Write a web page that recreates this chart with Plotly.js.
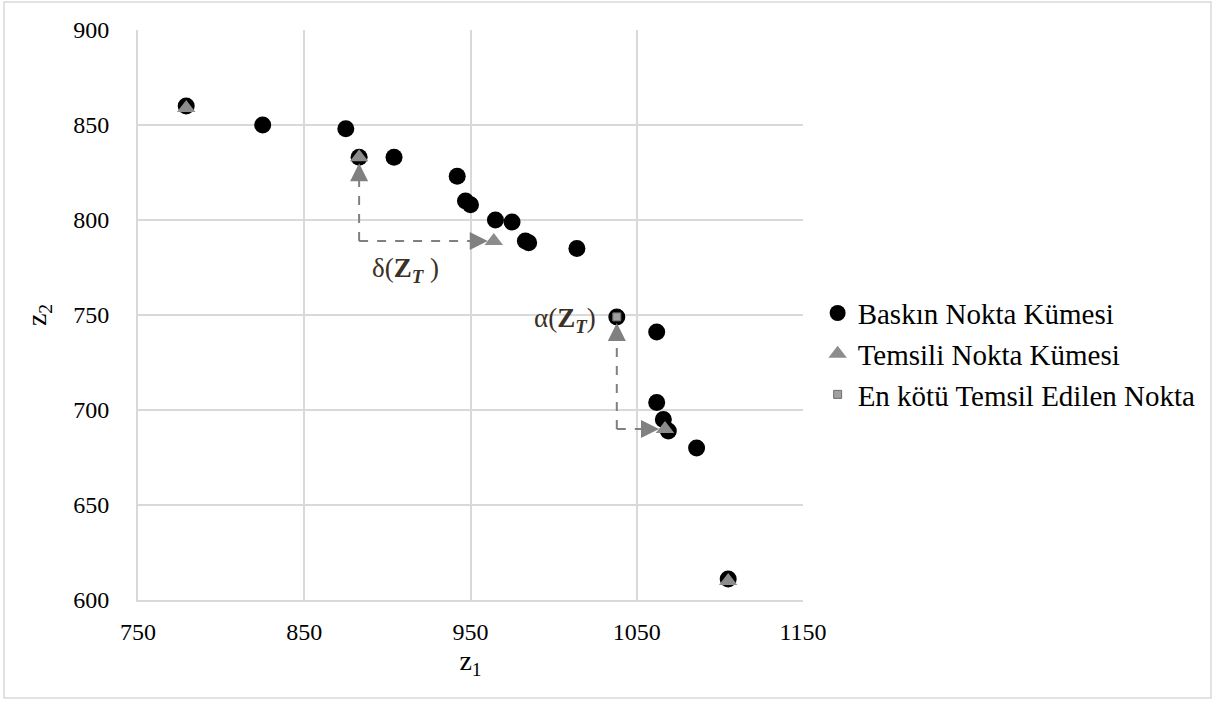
<!DOCTYPE html>
<html>
<head>
<meta charset="utf-8">
<script src="https://cdn.plot.ly/plotly-3.0.1.min.js"></script>
<style>html,body{margin:0;padding:0;background:#fff;}#chart{width:1218px;height:701px;}</style>
</head>
<body>
<div id="chart"></div>
<script>
// Dominated (Baskın) point set
var baskinX = [779, 825, 875, 883, 904, 942, 947, 950, 965, 975, 983, 985, 1014, 1038, 1062, 1062, 1066, 1069, 1086, 1105];
var baskinY = [860, 850, 848, 833, 833, 823, 810, 808, 800, 799, 789, 788, 785, 749, 741, 704, 695, 689, 680, 611];
// Representative (Temsili) point set
var temsiliX = [779, 883, 964, 1067, 1105];
var temsiliY = [859, 833, 789, 690, 610];
// Worst represented point
var worstX = [1038];
var worstY = [749];

var seriesNames = ['Baskın Nokta Kümesi', 'Temsili Nokta Kümesi', 'En kötü Temsil Edilen Nokta'];
var xTicks = [750, 850, 950, 1050, 1150];
var yTicks = [600, 650, 700, 750, 800, 850, 900];

var serif = "'Liberation Serif', 'Times New Roman', Times, serif";
var arrowGrey = '#808080';

var traces = [
  {x: baskinX, y: baskinY, type: 'scatter', mode: 'markers', name: seriesNames[0], legendgroup: 'a',
   marker: {symbol: 'circle', size: 17, color: '#000000'}},
  {x: temsiliX, y: temsiliY, type: 'scatter', mode: 'markers', name: seriesNames[1], legendgroup: 'b',
   marker: {symbol: 'triangle-up', size: 16, color: '#8c8c8c'}},
  {x: worstX, y: worstY, type: 'scatter', mode: 'markers', name: seriesNames[2], legendgroup: 'c',
   marker: {symbol: 'square', size: 8, color: '#a0a0a0', line: {color: '#6e6e6e', width: 1}}}
];

// delta construction: corner below representative point 2, at y of representative point 3
var dCornerX = temsiliX[1], dCornerY = temsiliY[2];
// alpha construction: corner under worst point, at y of representative point 4
var aCornerX = worstX[0], aCornerY = temsiliY[3];

var shapes = [
  {type: 'line', xref: 'x', yref: 'y', x0: dCornerX, y0: dCornerY, x1: dCornerX, y1: temsiliY[1] - 6,
   line: {color: arrowGrey, width: 2, dash: 'dash'}},
  {type: 'line', xref: 'x', yref: 'y', x0: dCornerX, y0: dCornerY, x1: temsiliX[2] - 12, y1: dCornerY,
   line: {color: arrowGrey, width: 2, dash: 'dash'}},
  {type: 'line', xref: 'x', yref: 'y', x0: aCornerX, y0: aCornerY, x1: aCornerX, y1: worstY[0] - 8,
   line: {color: arrowGrey, width: 2, dash: 'dash'}},
  {type: 'line', xref: 'x', yref: 'y', x0: aCornerX, y0: aCornerY, x1: temsiliX[3] - 12, y1: aCornerY,
   line: {color: arrowGrey, width: 2, dash: 'dash'}},
  {type: 'rect', xref: 'paper', yref: 'paper', x0: (4 - 138) / 665, x1: (1211 - 138) / 665,
   y0: (600 - 698) / 570, y1: (600 - 2) / 570, line: {color: '#d9d9d9', width: 1.5}, layer: 'below'}
];

function head(x, y, ax, ay) {
  return {x: x, y: y, xref: 'x', yref: 'y', ax: ax, ay: ay, showarrow: true, arrowhead: 2,
          arrowsize: 1.8, arrowwidth: 2, arrowcolor: arrowGrey, standoff: 6, text: ''};
}

var annotations = [
  head(temsiliX[1], temsiliY[1], 0, 18),
  head(temsiliX[2], temsiliY[2], -18, 0),
  head(worstX[0], worstY[0], 0, 18),
  head(temsiliX[3], temsiliY[3], -18, 0),
  {x: 911, y: 773.5, xref: 'x', yref: 'y', showarrow: false,
   text: 'δ(<b>Z</b><sub><b><i>T</i></b></sub> )', font: {family: serif, size: 27, color: '#3b3026'}},
  {x: 1007, y: 747.5, xref: 'x', yref: 'y', showarrow: false,
   text: 'α(<b>Z</b><sub><b><i>T</i></b></sub>)', font: {family: serif, size: 27, color: '#3b3026'}}
];

var layout = {
  width: 1218, height: 701,
  margin: {l: 138, r: 415, t: 30, b: 101},
  paper_bgcolor: '#ffffff', plot_bgcolor: '#ffffff',
  font: {family: serif, size: 24, color: '#000000'},
  showlegend: true,
  legend: {x: 1.022, xanchor: 'left', y: 0.548, yanchor: 'top', font: {family: serif, size: 29, color: '#000'},
           traceorder: 'grouped', tracegroupgap: 0, itemwidth: 30, bgcolor: 'rgba(0,0,0,0)'},
  xaxis: {range: [750, 1150], tickvals: xTicks, ticktext: xTicks.map(String), showgrid: true, gridcolor: '#d9d9d9', gridwidth: 2,
          zeroline: false, showline: true, linecolor: '#d9d9d9', linewidth: 2, ticks: '', ticklabelstandoff: 9,
          tickfont: {family: serif, size: 24, color: '#000'},
          title: {text: 'z<sub>1</sub>', font: {family: serif, size: 28, color: '#000'}, standoff: 4}},
  yaxis: {range: [600, 900], tickvals: yTicks, ticktext: yTicks.map(String), showgrid: true, gridcolor: '#d9d9d9', gridwidth: 2,
          zeroline: false, showline: true, linecolor: '#d9d9d9', linewidth: 2, ticks: '', ticklabelstandoff: 22,
          tickfont: {family: serif, size: 24, color: '#000'},
          title: {text: 'z<sub>2</sub>', font: {family: serif, size: 28, color: '#000'}, standoff: 18}},
  shapes: shapes,
  annotations: annotations
};

Plotly.newPlot('chart', traces, layout, {displayModeBar: false, staticPlot: true});
</script>
</body>
</html>
